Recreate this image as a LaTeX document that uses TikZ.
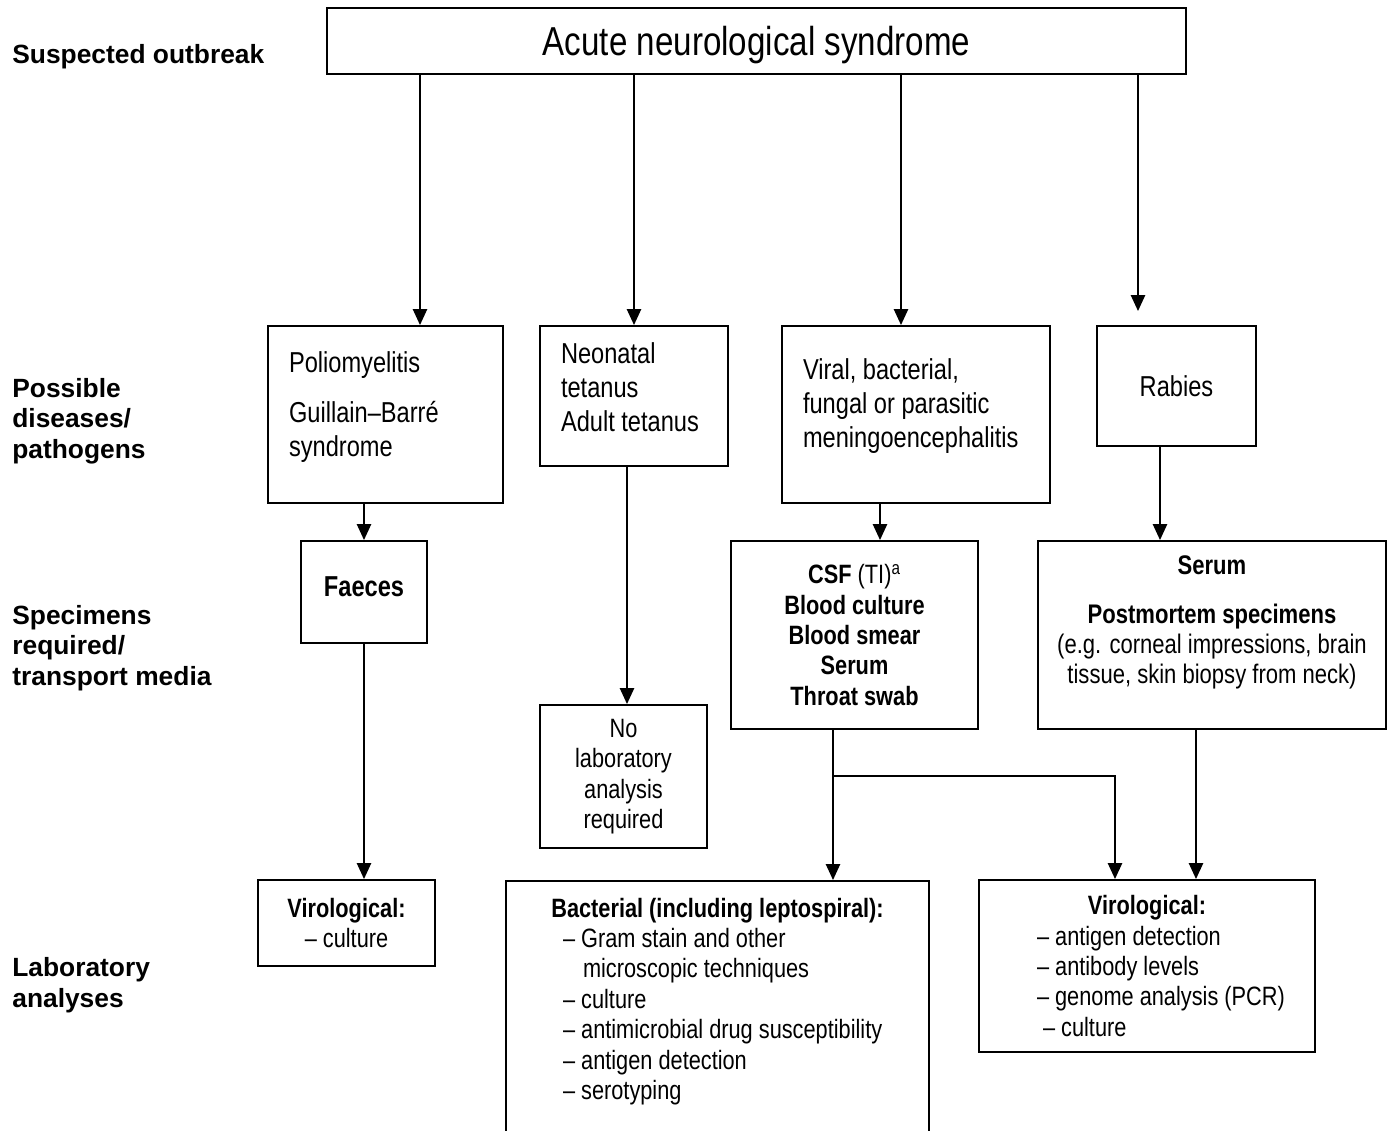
\documentclass[tikz,border=0pt]{standalone}
\usepackage{fontspec}
\setmainfont{Liberation Sans}
\newfontfamily\narrowfont[FakeStretch=0.82,WordSpace=0.85]{Liberation Sans}
\newfontfamily\titlefont[FakeStretch=0.82]{Liberation Sans}
\usetikzlibrary{arrows.meta}
\newcommand{\pix}{0.02cm}
\newcommand{\padbelow}[1]{\rule[-#1]{0pt}{#1}}
\newcommand{\padabove}[1]{\rule{0pt}{#1}}

\begin{document}
\begin{tikzpicture}[x=\pix,y=-\pix]
  \useasboundingbox (0,0) rectangle (1393,1130);
  \tikzstyle{Box}=[draw,line width=1.1pt,inner sep=0pt]
  \tikzstyle{TitleText}=[font=\titlefont\fontsize{23}{27}\selectfont]
  \tikzstyle{BigText}=[font=\narrowfont\fontsize{16.4}{19.3}\selectfont]
  \tikzstyle{MidText}=[font=\narrowfont\fontsize{15.3}{17.3}\selectfont]
  \tikzstyle{LabText}=[font=\narrowfont\fontsize{15.1}{17.3}\selectfont]
  \tikzstyle{RowLabel}=[anchor=west,align=flush left,inner sep=0pt,
                        font=\fontsize{15}{17.3}\selectfont\bfseries]
  \tikzstyle{Arrow}=[-{Triangle[length=9pt,width=8pt]},line width=1.1pt]

  % row labels
  \node[RowLabel] (outbreak) at (12,57) {Suspected outbreak};
  \node[RowLabel] (diseases) at (12,421) {Possible\\diseases/\\pathogens};
  \node[RowLabel] (specimens) at (12,648) {Specimens\\required/\\transport media};
  \node[RowLabel] (analyses) at (12,985) {Laboratory\\analyses};

  % syndrome
  \node[Box,TitleText,minimum width=859*\pix,minimum height=66*\pix]
    (title) at (756.5,41) {\padabove{21.4pt}Acute neurological syndrome};

  % diseases
  \node[Box,BigText,minimum height=177*\pix,text width=3.86cm,
        inner xsep=0.42cm,align=flush left] (polio) at (385.5,414.5)
    {Poliomyelitis\\[9.6pt]Guillain–Barré\\syndrome\padbelow{12pt}};
  \node[Box,BigText,minimum height=140*\pix,text width=2.92cm,
        inner xsep=0.42cm,align=flush left] (tetanus) at (634,396)
    {Neonatal\\tetanus\\Adult tetanus\padbelow{10.5pt}};
  \node[Box,BigText,minimum height=177*\pix,text width=4.52cm,
        inner xsep=0.42cm,align=flush left] (viral) at (916,414.5)
    {Viral, bacterial,\\fungal or parasitic\\meningoencephalitis\padbelow{13pt}};
  \node[Box,BigText,minimum width=159*\pix,minimum height=120*\pix]
    (rabies) at (1176.5,386) {Rabies};

  % specimens
  \node[Box,font=\narrowfont\fontsize{16.4}{19.3}\selectfont\bfseries,
        minimum width=126*\pix,minimum height=102*\pix]
    (faeces) at (364,592) {Faeces\padbelow{6pt}};
  \node[Box,LabText,minimum width=167*\pix,minimum height=143*\pix,align=flush center]
    (nolab) at (623.5,776.5) {No\\laboratory\\analysis\\required};
  \node[Box,LabText,minimum width=247*\pix,minimum height=188*\pix,align=flush center]
    (csf) at (854.5,635)
    {\textbf{CSF} (TI)\textsuperscript{a}\\\textbf{Blood culture}\\\textbf{Blood smear}\\
     \textbf{Serum}\\\textbf{Throat swab}};
  \node[Box,MidText,minimum width=348*\pix,minimum height=188*\pix,align=flush center]
    (serum) at (1212,635)
    {\textbf{Serum}\\[10.5pt]\textbf{Postmortem specimens}\\(e.g. corneal impressions, brain\\
     tissue, skin biopsy from neck)\padbelow{17.5pt}};

  % analyses
  \node[Box,LabText,minimum width=177*\pix,minimum height=86*\pix,align=flush center]
    (virocult) at (346.5,923) {\textbf{Virological:}\\– culture};
  \node[Box,LabText,anchor=north,text width=8.06cm,inner xsep=0.2cm,
        inner ysep=0.34cm,align=flush left] (bact) at (717.5,880)
    {\makebox[\linewidth]{\textbf{Bacterial (including leptospiral):}}\\
     \hspace*{0.94cm}– Gram stain and other\\
     \hspace*{1.34cm}microscopic techniques\\
     \hspace*{0.94cm}– culture\\
     \hspace*{0.94cm}– antimicrobial drug susceptibility\\
     \hspace*{0.94cm}– antigen detection\\
     \hspace*{0.94cm}– serotyping\padbelow{60pt}};
  \node[Box,LabText,minimum height=172*\pix,text width=6.32cm,inner xsep=0.2cm,
        align=flush left] (viro) at (1147,966)
    {\makebox[\linewidth]{\textbf{Virological:}}\\
     \hspace*{0.96cm}– antigen detection\\
     \hspace*{0.96cm}– antibody levels\\
     \hspace*{0.96cm}– genome analysis (PCR)\\
     \hspace*{1.08cm}– culture};

  % connectors
  \draw[Arrow] (title.south -| 420,0) -- (polio.north -| 420,0);
  \draw[Arrow] (title.south -| 634,0) -- (tetanus.north -| 634,0);
  \draw[Arrow] (title.south -| 901,0) -- (viral.north -| 901,0);
  \draw[Arrow,shorten >=0.28cm] (title.south -| 1138,0) -- (rabies.north -| 1138,0);
  \draw[Arrow] (polio.south -| faeces.north) -- (faeces.north);
  \draw[Arrow] (faeces.south) -- (virocult.north -| faeces.south);
  \draw[Arrow] (tetanus.south -| 627,0) -- (nolab.north -| 627,0);
  \draw[Arrow] (viral.south -| 880,0) -- (csf.north -| 880,0);
  \draw[Arrow] (rabies.south -| 1160,0) -- (serum.north -| 1160,0);
  \coordinate (split) at (833,776);
  \draw[Arrow] (csf.south -| split) -- (bact.north -| split);
  \draw[Arrow] (split) -| (viro.north -| 1115,0);
  \draw[Arrow] (serum.south -| 1196,0) -- (viro.north -| 1196,0);
\end{tikzpicture}
\end{document}
